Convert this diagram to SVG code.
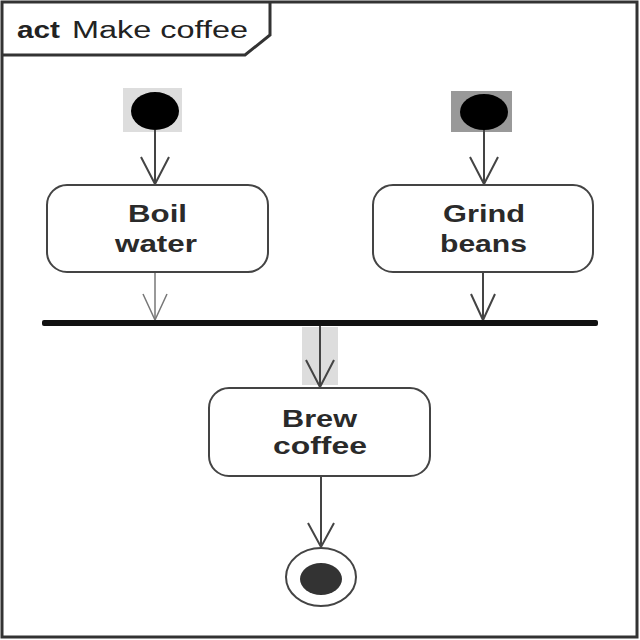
<svg xmlns="http://www.w3.org/2000/svg" width="640" height="640" viewBox="0 0 640 640">
<style>
.frame{fill:none;stroke:#333;stroke-width:3}
.act{fill:#fff;stroke:#444;stroke-width:2}
.lbl{font-family:"Liberation Sans",Arial,sans-serif;font-size:23px;font-weight:bold;fill:#2a2a2a}
.title{font-family:"Liberation Sans",Arial,sans-serif;font-size:23px;fill:#222}
.flow{fill:none;stroke:#444;stroke-width:2}
.flow2{fill:none;stroke:#777;stroke-width:1.5}
</style>
<rect width="640" height="640" fill="#fff"/>
<g id="frame">
<rect class="frame" x="2" y="2" width="635" height="635"/>
<path class="frame" d="M2,55 H245 L270,35 V2"/>
<text class="title" x="17" y="38"><tspan font-weight="bold" textLength="43" lengthAdjust="spacingAndGlyphs">act</tspan> <tspan x="72" y="38" textLength="176" lengthAdjust="spacingAndGlyphs">Make coffee</tspan></text>
</g>
<g id="highlights">
<rect x="123" y="88" width="59" height="44" fill="#ddd"/>
<rect x="451" y="91" width="61" height="41" fill="#999"/>
<rect x="302" y="327" width="36" height="58" fill="#ddd"/>
</g>
<g id="connectors">
<path class="flow" d="M155,130 V184"/>
<path class="flow" d="M141,157 L155,184 L169,157"/>
<path class="flow" d="M484,130 V184"/>
<path class="flow" d="M470,157 L484,184 L498,157"/>
<path class="flow2" d="M155,272 V320"/>
<path class="flow2" d="M143,294 L155,320 L167,294"/>
<path class="flow" d="M483,272 V320"/>
<path class="flow" d="M471,294 L483,320 L495,294"/>
<path class="flow" d="M320,326 V387"/>
<path class="flow" d="M306,360 L320,387 L334,360"/>
<path class="flow" d="M321,476 V547"/>
<path class="flow" d="M308,523 L321,547 L334,523"/>
</g>
<g id="start1"><ellipse cx="155" cy="111" rx="24" ry="19" fill="#000"/></g>
<g id="start2"><ellipse cx="484" cy="112" rx="24" ry="18" fill="#000"/></g>
<g id="boil">
<rect class="act" x="47" y="185" width="221" height="87" rx="20"/>
<text class="lbl" x="128" y="222" textLength="59" lengthAdjust="spacingAndGlyphs">Boil</text>
<text class="lbl" x="115" y="252" textLength="82" lengthAdjust="spacingAndGlyphs">water</text>
</g>
<g id="grind">
<rect class="act" x="373" y="185" width="220" height="87" rx="20"/>
<text class="lbl" x="443" y="222" textLength="82" lengthAdjust="spacingAndGlyphs">Grind</text>
<text class="lbl" x="440" y="252" textLength="87" lengthAdjust="spacingAndGlyphs">beans</text>
</g>
<g id="fork"><rect x="42" y="320" width="556" height="6" rx="2" fill="#111"/></g>
<g id="brew">
<rect class="act" x="209" y="388" width="221" height="88" rx="20"/>
<text class="lbl" x="282" y="427" textLength="75" lengthAdjust="spacingAndGlyphs">Brew</text>
<text class="lbl" x="273" y="454" textLength="94" lengthAdjust="spacingAndGlyphs">coffee</text>
</g>
<g id="final">
<ellipse cx="321" cy="577" rx="35" ry="29" fill="#fff" stroke="#444" stroke-width="2"/>
<ellipse cx="321" cy="579" rx="21" ry="16" fill="#333"/>
</g>
</svg>
